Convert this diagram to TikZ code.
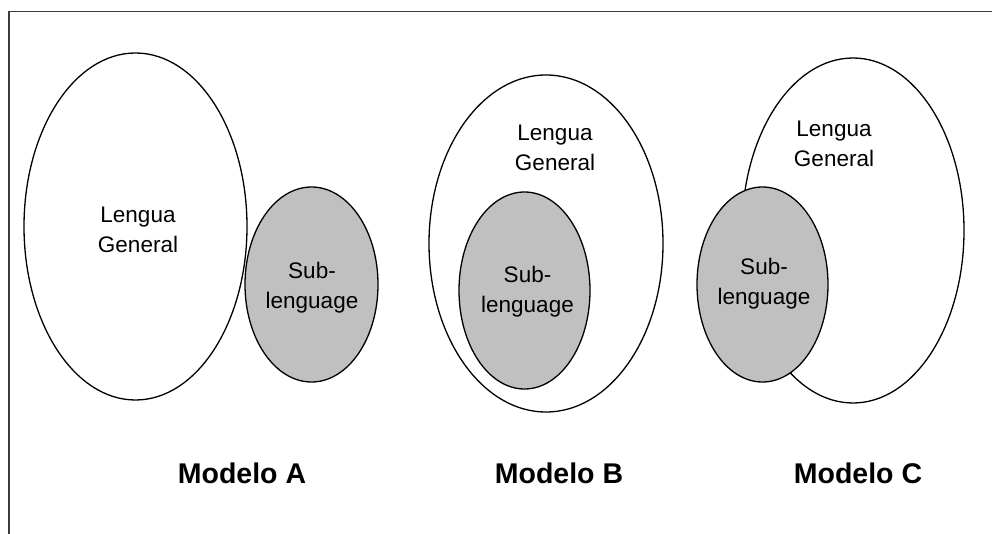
\documentclass[tikz,border=0pt]{standalone}
\usepackage{fontspec}
\setmainfont{Liberation Sans}
\usetikzlibrary{shapes.geometric}
\definecolor{subgray}{HTML}{C0C0C0}
\definecolor{framecol}{HTML}{3C3C3C}
\begin{document}
\begin{tikzpicture}[x=1pt,y=-1pt,
  big/.style={draw=black,line width=1.3pt,fill=white},
  small/.style={draw=black,line width=1.3pt,fill=subgray},
  lbl/.style={align=center,font=\fontsize{22.5}{30}\selectfont,inner sep=0pt},
  title/.style={font=\fontsize{28.5}{32}\selectfont\bfseries,inner sep=0pt,anchor=base}]
\useasboundingbox (0,0) rectangle (992,534);
\draw[framecol,line width=1.6pt] (9,534) -- (9,11.5) -- (992,11.5);
% Modelo A
\draw[big] (135.5,226.5) ellipse [x radius=111.5,y radius=173.5];
\draw[small] (311.5,284.5) ellipse [x radius=66.5,y radius=97.5];
\node[lbl] (lgA) at (138,230) {Lengua\\General};
\node[lbl] (slA) at (312,288) {Sub-\\lenguage};
\node[title] (mA) at (242,483) {Modelo A};
% Modelo B
\draw[big] (546,243.5) ellipse [x radius=117,y radius=168.5];
\draw[small] (524.5,290.5) ellipse [x radius=65.5,y radius=98.5];
\node[lbl] (lgB) at (555,148) {Lengua\\General};
\node[lbl] (slB) at (527.5,292) {Sub-\\lenguage};
\node[title] (mB) at (559,483) {Modelo B};
% Modelo C
\draw[big] (853,230.5) ellipse [x radius=111,y radius=172.5];
\draw[small] (762.5,284.5) ellipse [x radius=65.5,y radius=97.5];
\node[lbl] (lgC) at (834,144) {Lengua\\General};
\node[lbl] (slC) at (764,284) {Sub-\\lenguage};
\node[title] (mC) at (858,483) {Modelo C};
\end{tikzpicture}
\end{document}
